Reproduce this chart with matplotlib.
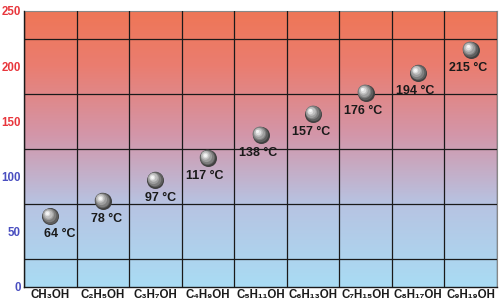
import numpy as np
import matplotlib
matplotlib.use('Agg')
import matplotlib.pyplot as plt
import matplotlib.transforms as mtransforms
from matplotlib.colors import LinearSegmentedColormap

# Data
alcohols = ['CH₃OH', 'C₂H₅OH', 'C₃H₇OH', 'C₄H₉OH', 'C₅H₁₁OH',
            'C₆H₁₃OH', 'C₇H₁₅OH', 'C₈H₁₇OH', 'C₉H₁₉OH']
boiling_points = [64, 78, 97, 117, 138, 157, 176, 194, 215]
y_ticks = [0, 50, 100, 150, 200, 250]

# horizontal nudge of each value label (points)
label_dx = [6.5, 3, 3.5, -2, -2, -1.5, -1.5, -2, -2]

plt.rcParams['font.family'] = ['Liberation Sans', 'DejaVu Sans']

fig = plt.figure(figsize=(5.0, 3.02), dpi=100)
ax = fig.add_axes([0.048, 0.0497, 0.946, 0.914])

x = np.arange(len(alcohols))
ax.set_xlim(-0.5, len(alcohols) - 0.5)
ax.set_ylim(0, 250)

# Background gradient
bg = LinearSegmentedColormap.from_list('bg', [(0.0, '#a9dcf4'),
                                              (0.3, '#b7c3e2'),
                                              (0.55, '#d396a9'),
                                              (0.8, '#ea7d70'),
                                              (1.0, '#ef7656')])
grad = np.linspace(0, 1, 256).reshape(-1, 1)
ax.imshow(grad, cmap=bg, origin='lower', aspect='auto',
          extent=[-0.5, len(alcohols) - 0.5, 0, 250], zorder=0)

# Grid
ax.set_xticks(x)
ax.set_xticks(np.arange(-0.5, len(alcohols), 1), minor=True)
ax.set_yticks(y_ticks)
ax.set_yticks(np.arange(0, 251, 25), minor=True)
ax.grid(which='minor', color='#1a1a1a', linewidth=0.9, zorder=1)
ax.set_axisbelow(False)
ax.tick_params(which='both', length=0)
ax.tick_params(axis='x', pad=1.5)
ax.tick_params(axis='y', pad=2.5)
ax.set_xticklabels(alcohols, fontsize=8.3, fontweight='bold', color='#1a1a1a')
ax.set_yticklabels([str(v) for v in y_ticks], fontsize=8.3, fontweight='bold')
for lab, v in zip(ax.get_yticklabels(), y_ticks):
    lab.set_color('#e8363c' if v >= 150 else '#4a4fc0')

for s in ['top', 'right']:
    ax.spines[s].set_color('#888888')
    ax.spines[s].set_linewidth(0.8)
for s in ['left', 'bottom']:
    ax.spines[s].set_color('#1a1a1a')
    ax.spines[s].set_linewidth(1.0)

# Shaded balls
ax.scatter(x, boiling_points, s=150, color='#404040', zorder=3, linewidths=0)
shades = [(125, '#5e5e5e', 0.4), (95, '#7e7e7e', 0.9), (65, '#9e9e9e', 1.4),
          (38, '#bebebe', 1.8), (16, '#dedede', 2.1), (5, '#f6f6f6', 2.3)]
for size, col, off in shades:
    tr = mtransforms.offset_copy(ax.transData, fig=fig, x=-off, y=off, units='points')
    ax.scatter(x, boiling_points, s=size, color=col, zorder=4,
               linewidths=0, transform=tr)

# Labels
for xi, bp, dx in zip(x, boiling_points, label_dx):
    ax.annotate(f'{bp} °C', (xi, bp), xytext=(dx, -13), textcoords='offset points',
                ha='center', va='center', fontsize=9, fontweight='bold',
                color='#1a1a1a', zorder=5)

fig.savefig('out.png', dpi=100)
